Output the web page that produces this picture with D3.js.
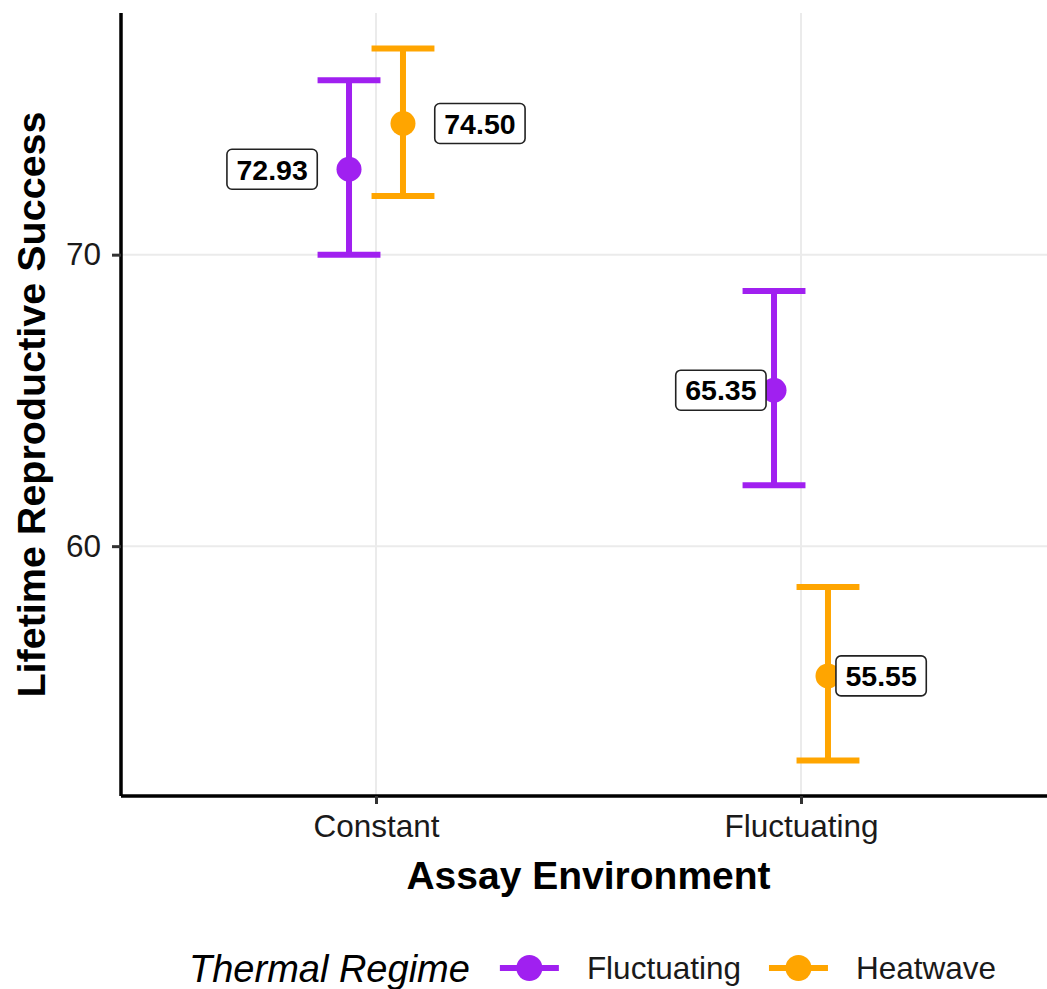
<!DOCTYPE html>
<html>
<head>
<meta charset="utf-8">
<script src="https://cdn.jsdelivr.net/npm/d3@7"></script>
<style>
  body { margin: 0; background: #fff; }
  svg { display: block; font-family: "Liberation Sans", Arial, Helvetica, sans-serif; }
</style>
</head>
<body>
<svg id="chart"></svg>
<script>
// data
var environments = ["Constant", "Fluctuating"];
var regimes = ["Fluctuating", "Heatwave"];
var meanValues = [[72.93, 74.50], [65.35, 55.55]];   // [environment][regime]
var lowerValues = [[70.00, 72.01], [62.09, 52.65]];
var upperValues = [[75.98, 77.07], [68.75, 58.60]];
var yTicks = [60, 70];

var width = 1047, height = 989;
var margin = { top: 13, right: -9, bottom: 193, left: 121 };

var colors = { "Fluctuating": "#A020F0", "Heatwave": "#FFA500" };

var svg = d3.select("#chart")
    .attr("width", width)
    .attr("height", height);

var rows = [];
environments.forEach(function (env, i) {
    regimes.forEach(function (reg, j) {
        rows.push({ env: env, regime: reg, j: j,
            mean: meanValues[i][j], lo: lowerValues[i][j], hi: upperValues[i][j] });
    });
});

//-------------
//   SCALES
//-------------
var x = d3.scalePoint()
    .domain(environments)
    .range([margin.left, width - margin.right])
    .padding(0.6);

var allVals = rows.map(d => d.lo).concat(rows.map(d => d.hi));
var yMin = d3.min(allVals), yMax = d3.max(allVals);
var pad = (yMax - yMin) * 0.05;
var y = d3.scaleLinear()
    .domain([yMin - pad, yMax + pad])
    .range([height - margin.bottom, margin.top]);

var dodge = 0.127 * x.step();      // position_dodge width
var capWidth = 0.148 * x.step();
function xPos(d) { return x(d.env) + (d.j - 0.5) * dodge; }

//-------------
//   GRID
//-------------
svg.append("g").selectAll("line.hgrid").data(yTicks).enter()
    .append("line")
    .attr("x1", margin.left).attr("x2", width)
    .attr("y1", d => y(d)).attr("y2", d => y(d))
    .attr("stroke", "#ebebeb").attr("stroke-width", 2);

svg.append("g").selectAll("line.vgrid").data(environments).enter()
    .append("line")
    .attr("x1", d => x(d)).attr("x2", d => x(d))
    .attr("y1", margin.top).attr("y2", height - margin.bottom)
    .attr("stroke", "#ebebeb").attr("stroke-width", 2);

//-------------
//   AXES
//-------------
var yAxis = svg.append("g")
    .attr("transform", "translate(" + margin.left + ",0)")
    .call(d3.axisLeft(y).tickValues(yTicks).tickSize(9).tickPadding(11));
var xAxis = svg.append("g")
    .attr("transform", "translate(0," + (height - margin.bottom) + ")")
    .call(d3.axisBottom(x).tickSize(8).tickPadding(11));

[xAxis, yAxis].forEach(function (ax) {
    ax.select(".domain").attr("stroke", "#000").attr("stroke-width", 3.5);
    ax.selectAll(".tick line").attr("stroke", "#333").attr("stroke-width", 3);
    ax.selectAll(".tick text")
        .attr("fill", "#1a1a1a")
        .style("font-size", "31.5px")
        .style("font-family", "inherit");
});
// extend y axis line to the panel top, x axis to the image edge
yAxis.select(".domain").attr("d", "M0," + margin.top + "V" + (height - margin.bottom));
xAxis.select(".domain").attr("d", "M" + margin.left + ",0H" + width);

svg.append("text")
    .attr("x", (margin.left + width - margin.right) / 2)
    .attr("y", 889)
    .attr("text-anchor", "middle")
    .style("font-size", "39px").style("font-weight", "bold")
    .text("Assay Environment");

svg.append("text")
    .attr("transform", "translate(45," + ((margin.top + height - margin.bottom) / 2) + ") rotate(-90)")
    .attr("text-anchor", "middle")
    .style("font-size", "39.5px").style("font-weight", "bold")
    .text("Lifetime Reproductive Success");

//-------------
//  ERROR BARS
//-------------
var bars = svg.append("g").selectAll("g.bar").data(rows).enter()
    .append("g")
    .attr("stroke", d => colors[d.regime])
    .attr("stroke-width", 6);

bars.append("line")
    .attr("x1", xPos).attr("x2", xPos)
    .attr("y1", d => y(d.lo)).attr("y2", d => y(d.hi));
bars.append("line")
    .attr("x1", d => xPos(d) - capWidth / 2).attr("x2", d => xPos(d) + capWidth / 2)
    .attr("y1", d => y(d.hi)).attr("y2", d => y(d.hi));
bars.append("line")
    .attr("x1", d => xPos(d) - capWidth / 2).attr("x2", d => xPos(d) + capWidth / 2)
    .attr("y1", d => y(d.lo)).attr("y2", d => y(d.lo));

svg.append("g").selectAll("circle").data(rows).enter()
    .append("circle")
    .attr("cx", xPos).attr("cy", d => y(d.mean))
    .attr("r", 12.5)
    .attr("fill", d => colors[d.regime]);

//-------------
//   LABELS
//-------------
// nudge in category units, purple to the left, orange to the right
var labelNudge = { "Constant": 0.181, "Fluctuating": 0.125 };
var labels = svg.append("g").selectAll("g.label").data(rows).enter()
    .append("g")
    .attr("transform", function (d) {
        var dir = d.j === 0 ? -1 : 1;
        return "translate(" + (xPos(d) + dir * labelNudge[d.env] * x.step()) + "," + y(d.mean) + ")";
    });

labels.each(function (d) {
    var g = d3.select(this);
    var t = g.append("text")
        .attr("text-anchor", "middle")
        .attr("dy", "0.36em")
        .style("font-size", "28.5px").style("font-weight", "bold")
        .attr("fill", "#000")
        .text(d.mean.toFixed(2));
    var w = t.node().getComputedTextLength() + 19;
    g.insert("rect", "text")
        .attr("x", -w / 2).attr("y", -20)
        .attr("width", w).attr("height", 40)
        .attr("rx", 5).attr("ry", 5)
        .attr("fill", "#fff")
        .attr("stroke", "#222").attr("stroke-width", 1.6);
});

//-------------
//   LEGEND
//-------------
var legend = svg.append("g").attr("transform", "translate(189,968)");
var lt = legend.append("text")
    .attr("dy", "0.36em")
    .style("font-size", "38px").style("font-style", "italic")
    .text("Thermal Regime");
var cursor = lt.node().getComputedTextLength() + 30;
regimes.forEach(function (reg) {
    var k = legend.append("g").attr("transform", "translate(" + cursor + ",0)");
    k.append("line").attr("x1", 0).attr("x2", 59)
        .attr("stroke", colors[reg]).attr("stroke-width", 6);
    k.append("circle").attr("cx", 29.5).attr("r", 13).attr("fill", colors[reg]);
    var tx = k.append("text")
        .attr("x", 87).attr("dy", "0.36em")
        .style("font-size", "31.5px")
        .attr("fill", "#1a1a1a")
        .text(reg);
    cursor += 87 + tx.node().getComputedTextLength() + 28;
});
</script>
</body>
</html>
